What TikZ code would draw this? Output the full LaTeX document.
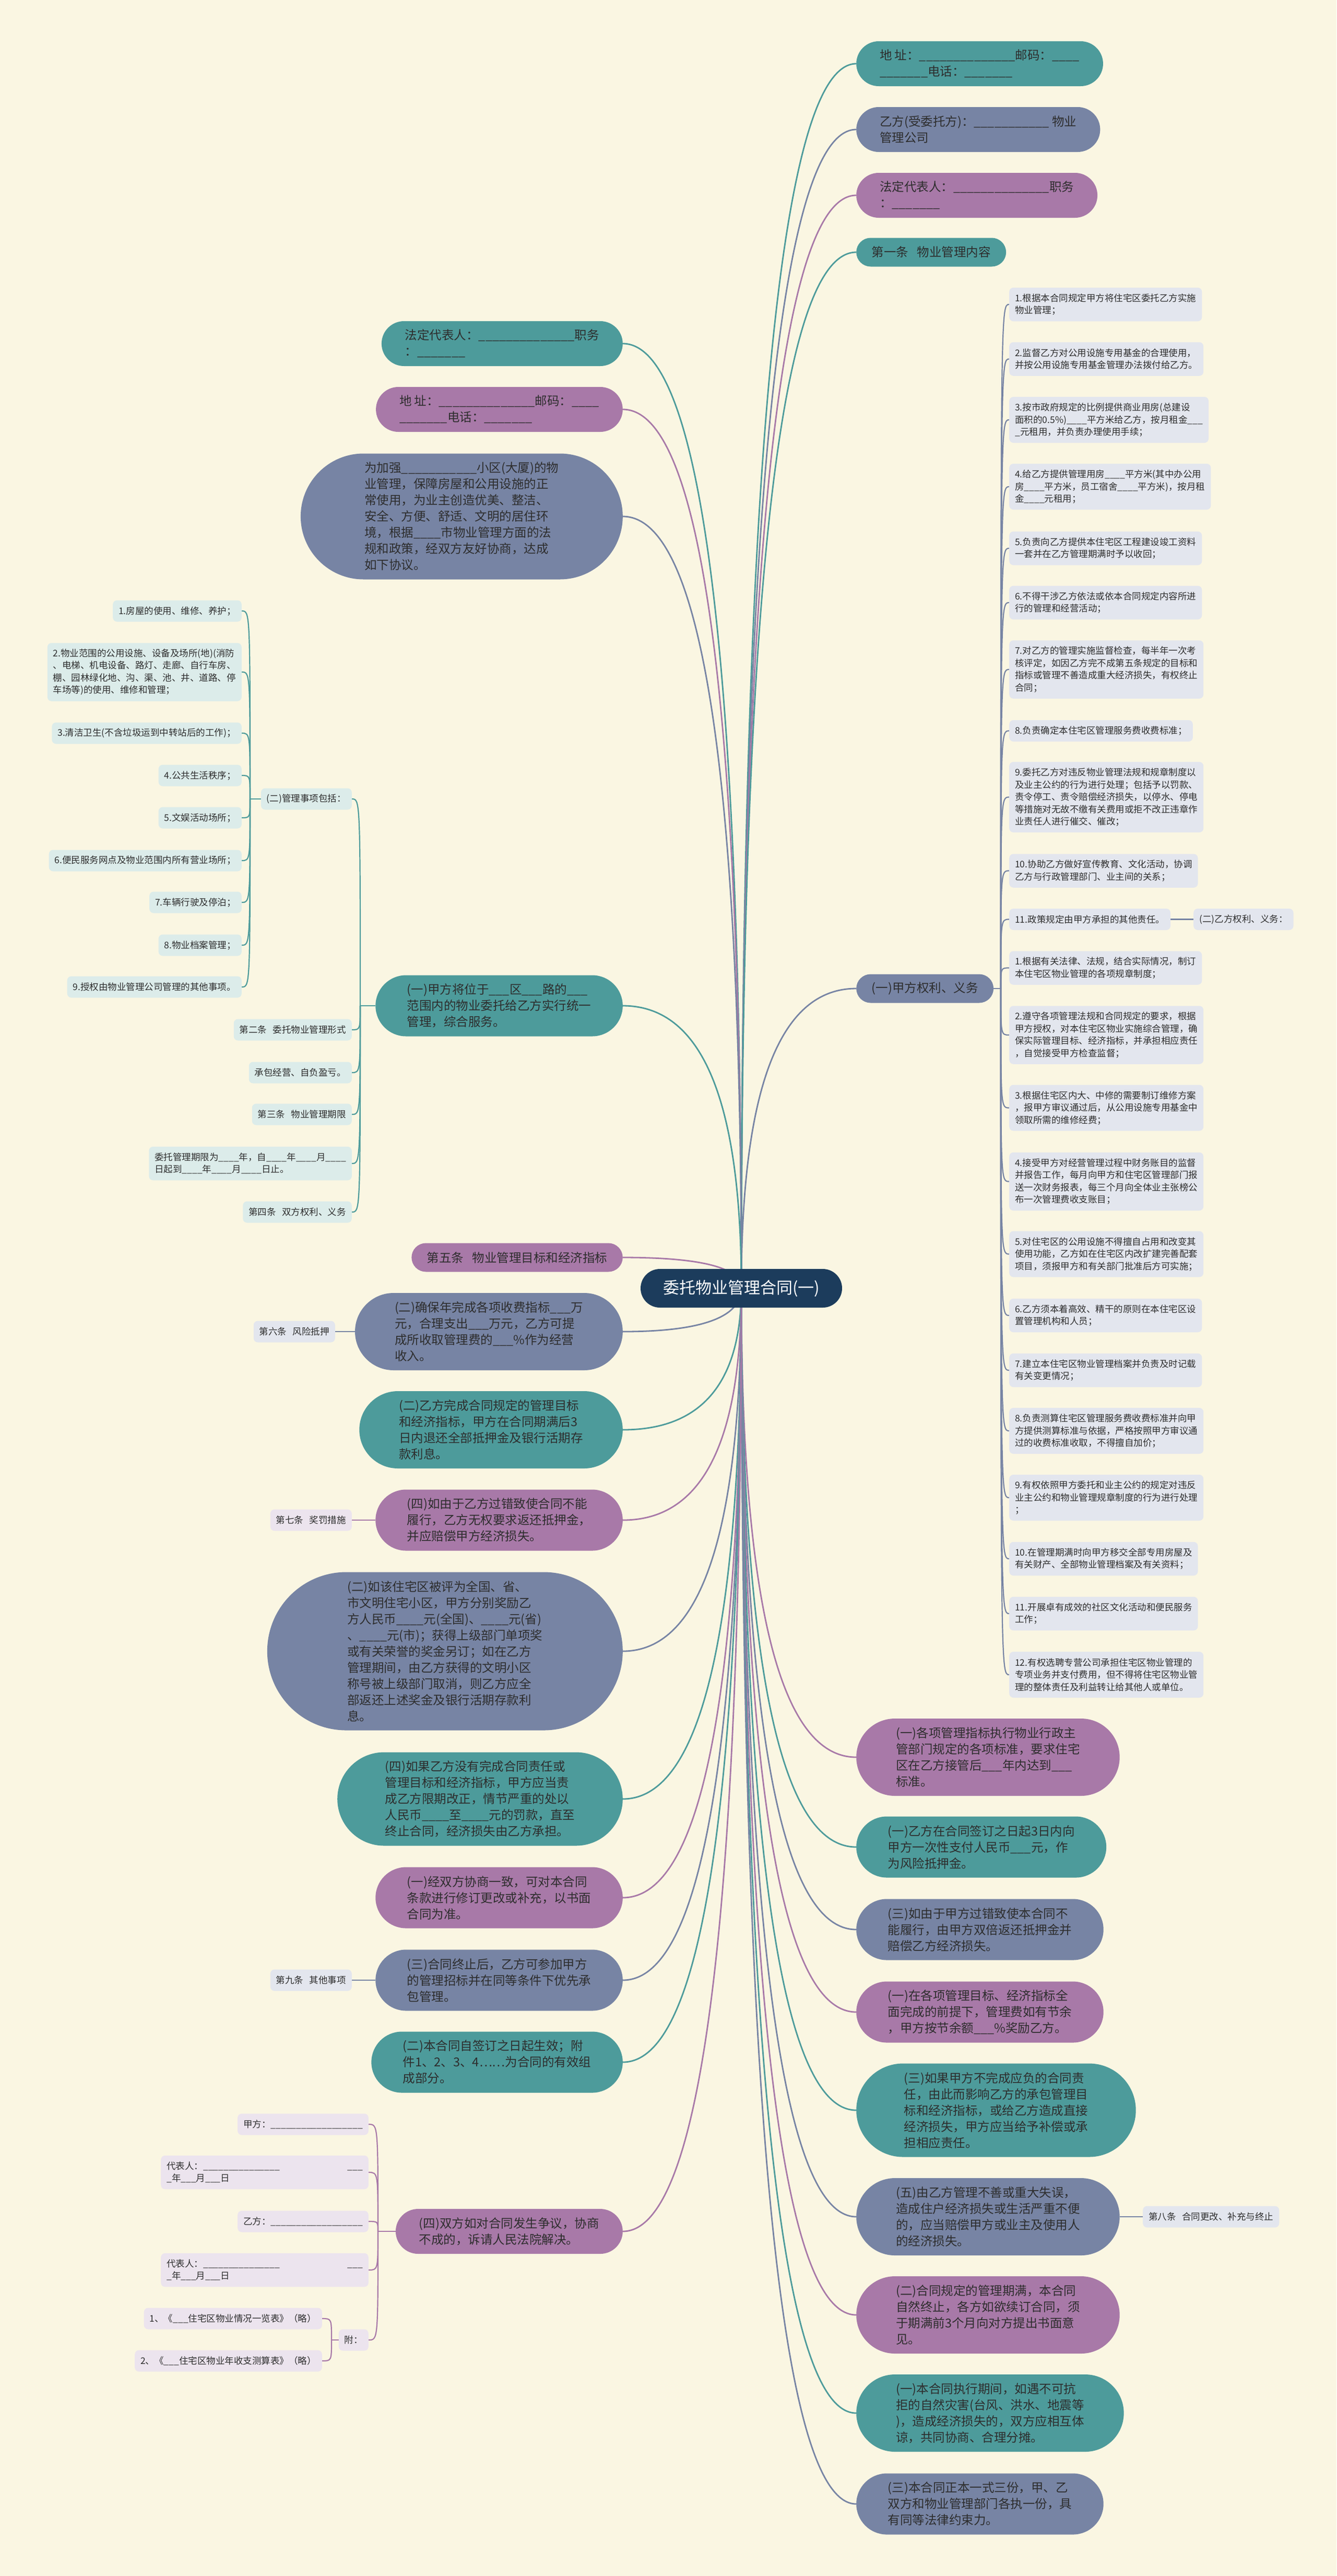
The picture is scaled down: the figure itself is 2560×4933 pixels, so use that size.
\documentclass[tikz,border=0pt]{standalone}
\usepackage{fontspec}
\setmainfont{Noto Sans CJK SC}
\usetikzlibrary{calc,backgrounds}
\definecolor{bgcol}{RGB}{250,246,226}
\definecolor{tealc}{RGB}{77,155,155}
\definecolor{slatec}{RGB}{119,132,164}
\definecolor{purplec}{RGB}{168,121,168}
\definecolor{rootc}{RGB}{28,60,92}
\definecolor{leafslate}{RGB}{227,230,238}
\definecolor{leafteal}{RGB}{220,236,234}
\definecolor{leafpurple}{RGB}{236,228,238}
\definecolor{ink}{RGB}{45,45,45}
\newcommand{\blanks}[1]{\foreach\blnk in {1,...,#1}{\_}}
\tikzset{
hub/.style={rectangle,rounded corners=37,fill=rootc,text=white,inner xsep=43,inner ysep=0,minimum height=74,font=\fontsize{31}{38}\selectfont},
pill/.style={rectangle,rounded corners={(31*#1+24)/2},align=left,text=ink,inner xsep={(31*#1+24)/2+2},inner ysep=0,minimum height={31*#1+24},font=\fontsize{23.5}{31}\selectfont},
leafbox/.style={rectangle,rounded corners=8,align=left,text=ink,inner xsep=11,inner ysep=0,minimum height={23.5*#1+17.5},font=\fontsize{17.5}{23.5}\selectfont},
quad/.style={to path={.. controls ($(\tikztostart)!2/3!(\tikztostart|-\tikztotarget)$) and ($(\tikztotarget)!2/3!(\tikztostart|-\tikztotarget)$) .. (\tikztotarget)}},
elbow/.style={to path={.. controls (\tikztostart|-\tikztotarget) .. (\tikztotarget)}}
}
\begin{document}
\begin{tikzpicture}[x=1pt,y=-1pt]
\useasboundingbox (0,0) rectangle (2560,4933);
\node[hub] (root) at (1420,2467) {委托物业管理合同(一)};
\node[pill=2,fill=tealc,anchor=west] (r1) at (1640,122) {地 址：\blanks{14}邮码：\blanks{4}\\\blanks{7}电话：\blanks{7}};
\node[pill=2,fill=slatec,anchor=west] (r2) at (1640,248) {乙方(受委托方)：\blanks{11} 物业\\管理公司};
\node[pill=2,fill=purplec,anchor=west] (r3) at (1640,374) {法定代表人：\blanks{14}职务\\：\blanks{7}};
\node[pill=1,fill=tealc,anchor=west] (r4) at (1640,483) {第一条\hspace{0.7em}物业管理内容};
\node[pill=1,fill=slatec,anchor=west] (r5) at (1640,1893) {(一)甲方权利、义务};
\node[pill=4,fill=purplec,anchor=west] (r6) at (1640,3365) {(一)各项管理指标执行物业行政主\\管部门规定的各项标准，要求住宅\\区在乙方接管后\blanks{3}年内达到\blanks{3}\\标准。};
\node[pill=3,fill=tealc,anchor=west] (r7) at (1640,3537) {(一)乙方在合同签订之日起3日内向\\甲方一次性支付人民币\blanks{3}元，作\\为风险抵押金。};
\node[pill=3,fill=slatec,anchor=west] (r8) at (1640,3695) {(三)如由于甲方过错致使本合同不\\能履行，由甲方双倍返还抵押金并\\赔偿乙方经济损失。};
\node[pill=3,fill=purplec,anchor=west] (r9) at (1640,3853) {(一)在各项管理目标、经济指标全\\面完成的前提下，管理费如有节余\\，甲方按节余额\blanks{3}\%奖励乙方。};
\node[pill=5,fill=tealc,anchor=west] (r10) at (1640,4041) {(三)如果甲方不完成应负的合同责\\任，由此而影响乙方的承包管理目\\标和经济指标，或给乙方造成直接\\经济损失，甲方应当给予补偿或承\\担相应责任。};
\node[pill=4,fill=slatec,anchor=west] (r11) at (1640,4245) {(五)由乙方管理不善或重大失误，\\造成住户经济损失或生活严重不便\\的，应当赔偿甲方或业主及使用人\\的经济损失。};
\node[pill=4,fill=purplec,anchor=west] (r12) at (1640,4433) {(二)合同规定的管理期满，本合同\\自然终止，各方如欲续订合同，须\\于期满前3个月向对方提出书面意\\见。};
\node[pill=4,fill=tealc,anchor=west] (r13) at (1640,4621) {(一)本合同执行期间，如遇不可抗\\拒的自然灾害(台风、洪水、地震等\\)，造成经济损失的，双方应相互体\\谅，共同协商、合理分摊。};
\node[pill=3,fill=slatec,anchor=west] (r14) at (1640,4795) {(三)本合同正本一式三份，甲、乙\\双方和物业管理部门各执一份，具\\有同等法律约束力。};
\node[leafbox=1,fill=leafslate,anchor=west] (art8) at (2189,4245) {第八条\hspace{0.66em}合同更改、补充与终止};
\node[leafbox=2,fill=leafslate,anchor=west] (q1) at (1933,583) {1.根据本合同规定甲方将住宅区委托乙方实施\\物业管理；};
\node[leafbox=2,fill=leafslate,anchor=west] (q2) at (1933,687.5) {2.监督乙方对公用设施专用基金的合理使用，\\并按公用设施专用基金管理办法拨付给乙方。};
\node[leafbox=3,fill=leafslate,anchor=west] (q3) at (1933,804) {3.按市政府规定的比例提供商业用房(总建设\\面积的0.5\%)\blanks{4}平方米给乙方，按月租金\blanks{3}\\\_元租用，并负责办理使用手续；};
\node[leafbox=3,fill=leafslate,anchor=west] (q4) at (1933,932) {4.给乙方提供管理用房\blanks{4}平方米(其中办公用\\房\blanks{4}平方米，员工宿舍\blanks{4}平方米)，按月租\\金\blanks{4}元租用；};
\node[leafbox=2,fill=leafslate,anchor=west] (q5) at (1933,1050) {5.负责向乙方提供本住宅区工程建设竣工资料\\一套并在乙方管理期满时予以收回；};
\node[leafbox=2,fill=leafslate,anchor=west] (q6) at (1933,1154) {6.不得干涉乙方依法或依本合同规定内容所进\\行的管理和经营活动；};
\node[leafbox=4,fill=leafslate,anchor=west] (q7) at (1933,1282) {7.对乙方的管理实施监督检查，每半年一次考\\核评定，如因乙方完不成第五条规定的目标和\\指标或管理不善造成重大经济损失，有权终止\\合同；};
\node[leafbox=1,fill=leafslate,anchor=west] (q8) at (1933,1399.5) {8.负责确定本住宅区管理服务费收费标准；};
\node[leafbox=5,fill=leafslate,anchor=west] (q9) at (1933,1526.5) {9.委托乙方对违反物业管理法规和规章制度以\\及业主公约的行为进行处理；包括予以罚款、\\责令停工、责令赔偿经济损失，以停水、停电\\等措施对无故不缴有关费用或拒不改正违章作\\业责任人进行催交、催改；};
\node[leafbox=2,fill=leafslate,anchor=west] (q10) at (1933,1667.5) {10.协助乙方做好宣传教育、文化活动，协调\\乙方与行政管理部门、业主间的关系；};
\node[leafbox=1,fill=leafslate,anchor=west] (q11) at (1933,1760.5) {11.政策规定由甲方承担的其他责任。};
\node[leafbox=1,fill=leafslate,anchor=west] (yi) at (2286,1760.5) {(二)乙方权利、义务：};
\node[leafbox=2,fill=leafslate,anchor=west] (p1) at (1933,1853.5) {1.根据有关法律、法规，结合实际情况，制订\\本住宅区物业管理的各项规章制度；};
\node[leafbox=4,fill=leafslate,anchor=west] (p2) at (1933,1982) {2.遵守各项管理法规和合同规定的要求，根据\\甲方授权，对本住宅区物业实施综合管理，确\\保实际管理目标、经济指标，并承担相应责任\\，自觉接受甲方检查监督；};
\node[leafbox=3,fill=leafslate,anchor=west] (p3) at (1933,2121.5) {3.根据住宅区内大、中修的需要制订维修方案\\，报甲方审议通过后，从公用设施专用基金中\\领取所需的维修经费；};
\node[leafbox=4,fill=leafslate,anchor=west] (p4) at (1933,2262.5) {4.接受甲方对经营管理过程中财务账目的监督\\并报告工作，每月向甲方和住宅区管理部门报\\送一次财务报表，每三个月向全体业主张榜公\\布一次管理费收支账目；};
\node[leafbox=3,fill=leafslate,anchor=west] (p5) at (1933,2401.5) {5.对住宅区的公用设施不得擅自占用和改变其\\使用功能，乙方如在住宅区内改扩建完善配套\\项目，须报甲方和有关部门批准后方可实施；};
\node[leafbox=2,fill=leafslate,anchor=west] (p6) at (1933,2519) {6.乙方须本着高效、精干的原则在本住宅区设\\置管理机构和人员；};
\node[leafbox=2,fill=leafslate,anchor=west] (p7) at (1933,2624) {7.建立本住宅区物业管理档案并负责及时记载\\有关变更情况；};
\node[leafbox=3,fill=leafslate,anchor=west] (p8) at (1933,2740) {8.负责测算住宅区管理服务费收费标准并向甲\\方提供测算标准与依据，严格按照甲方审议通\\过的收费标准收取，不得擅自加价；};
\node[leafbox=3,fill=leafslate,anchor=west] (p9) at (1933,2868) {9.有权依照甲方委托和业主公约的规定对违反\\业主公约和物业管理规章制度的行为进行处理\\；};
\node[leafbox=2,fill=leafslate,anchor=west] (p10) at (1933,2985) {10.在管理期满时向甲方移交全部专用房屋及\\有关财产、全部物业管理档案及有关资料；};
\node[leafbox=2,fill=leafslate,anchor=west] (p11) at (1933,3090) {11.开展卓有成效的社区文化活动和便民服务\\工作；};
\node[leafbox=3,fill=leafslate,anchor=west] (p12) at (1933,3207) {12.有权选聘专营公司承担住宅区物业管理的\\专项业务并支付费用，但不得将住宅区物业管\\理的整体责任及利益转让给其他人或单位。};
\node[pill=2,fill=tealc,anchor=east] (l1) at (1193,658) {法定代表人：\blanks{14}职务\\：\blanks{7}};
\node[pill=2,fill=purplec,anchor=east] (l2) at (1193,784) {地 址：\blanks{14}邮码：\blanks{4}\\\blanks{7}电话：\blanks{7}};
\node[pill=7,fill=slatec,anchor=east] (l3) at (1193,989) {为加强\blanks{11}小区(大厦)的物\\业管理，保障房屋和公用设施的正\\常使用，为业主创造优美、整洁、\\安全、方便、舒适、文明的居住环\\境，根据\blanks{4}市物业管理方面的法\\规和政策，经双方友好协商，达成\\如下协议。};
\node[pill=3,fill=tealc,anchor=east] (l4) at (1193,1926) {(一)甲方将位于\blanks{3}区\blanks{3}路的\blanks{3}\\范围内的物业委托给乙方实行统一\\管理，综合服务。};
\node[pill=1,fill=purplec,anchor=east] (l5) at (1193,2408) {第五条\hspace{0.7em}物业管理目标和经济指标};
\node[pill=4,fill=slatec,anchor=east] (l6) at (1193,2550) {(二)确保年完成各项收费指标\blanks{3}万\\元，合理支出\blanks{3}万元，乙方可提\\成所收取管理费的\blanks{3}\%作为经营\\收入。};
\node[pill=4,fill=tealc,anchor=east] (l7) at (1193,2738) {(二)乙方完成合同规定的管理目标\\和经济指标，甲方在合同期满后3\\日内退还全部抵押金及银行活期存\\款利息。};
\node[pill=3,fill=purplec,anchor=east] (l8) at (1193,2911) {(四)如由于乙方过错致使合同不能\\履行，乙方无权要求返还抵押金，\\并应赔偿甲方经济损失。};
\node[pill=9,fill=slatec,anchor=east] (l9) at (1193,3162) {(二)如该住宅区被评为全国、省、\\市文明住宅小区，甲方分别奖励乙\\方人民币\blanks{4}元(全国)、\blanks{4}元(省)\\、\blanks{4}元(市)；获得上级部门单项奖\\或有关荣誉的奖金另订；如在乙方\\管理期间，由乙方获得的文明小区\\称号被上级部门取消，则乙方应全\\部返还上述奖金及银行活期存款利\\息。};
\node[pill=5,fill=tealc,anchor=east] (l10) at (1193,3445) {(四)如果乙方没有完成合同责任或\\管理目标和经济指标，甲方应当责\\成乙方限期改正，情节严重的处以\\人民币\blanks{4}至\blanks{4}元的罚款，直至\\终止合同，经济损失由乙方承担。};
\node[pill=3,fill=purplec,anchor=east] (l11) at (1193,3634) {(一)经双方协商一致，可对本合同\\条款进行修订更改或补充，以书面\\合同为准。};
\node[pill=3,fill=slatec,anchor=east] (l12) at (1193,3792) {(三)合同终止后，乙方可参加甲方\\的管理招标并在同等条件下优先承\\包管理。};
\node[pill=3,fill=tealc,anchor=east] (l13) at (1193,3949) {(二)本合同自签订之日起生效；附\\件1、2、3、4……为合同的有效组\\成部分。};
\node[pill=2,fill=purplec,anchor=east] (l14) at (1193,4273) {(四)双方如对合同发生争议，协商\\不成的，诉请人民法院解决。};
\node[leafbox=1,fill=leafteal,anchor=east] (k0) at (674,1530) {(二)管理事项包括：};
\node[leafbox=1,fill=leafteal,anchor=east] (k1) at (674,1972) {第二条\hspace{0.66em}委托物业管理形式};
\node[leafbox=1,fill=leafteal,anchor=east] (k2) at (674,2054) {承包经营、自负盈亏。};
\node[leafbox=1,fill=leafteal,anchor=east] (k3) at (674,2134) {第三条\hspace{0.66em}物业管理期限};
\node[leafbox=2,fill=leafteal,anchor=east] (k4) at (674,2228) {委托管理期限为\blanks{4}年，自\blanks{4}年\blanks{4}月\blanks{4}\\日起到\blanks{4}年\blanks{4}月\blanks{4}日止。};
\node[leafbox=1,fill=leafteal,anchor=east] (k5) at (674,2321) {第四条\hspace{0.66em}双方权利、义务};
\node[leafbox=1,fill=leafteal,anchor=east] (m1) at (463,1170) {1.房屋的使用、维修、养护；};
\node[leafbox=4,fill=leafteal,anchor=east] (m2) at (463,1287) {2.物业范围的公用设施、设备及场所(地)(消防\\、电梯、机电设备、路灯、走廊、自行车房、\\棚、园林绿化地、沟、渠、池、井、道路、停\\车场等)的使用、维修和管理；};
\node[leafbox=1,fill=leafteal,anchor=east] (m3) at (463,1404) {3.清洁卫生(不含垃圾运到中转站后的工作)；};
\node[leafbox=1,fill=leafteal,anchor=east] (m4) at (463,1485) {4.公共生活秩序；};
\node[leafbox=1,fill=leafteal,anchor=east] (m5) at (463,1566) {5.文娱活动场所；};
\node[leafbox=1,fill=leafteal,anchor=east] (m6) at (463,1648) {6.便民服务网点及物业范围内所有营业场所；};
\node[leafbox=1,fill=leafteal,anchor=east] (m7) at (463,1728) {7.车辆行驶及停泊；};
\node[leafbox=1,fill=leafteal,anchor=east] (m8) at (463,1810) {8.物业档案管理；};
\node[leafbox=1,fill=leafteal,anchor=east] (m9) at (463,1890) {9.授权由物业管理公司管理的其他事项。};
\node[leafbox=1,fill=leafslate,anchor=east] (art6) at (642,2550) {第六条\hspace{0.66em}风险抵押};
\node[leafbox=1,fill=leafpurple,anchor=east] (art7) at (674,2911) {第七条\hspace{0.66em}奖罚措施};
\node[leafbox=1,fill=leafslate,anchor=east] (art9) at (674,3792) {第九条\hspace{0.66em}其他事项};
\node[leafbox=1,fill=leafpurple,anchor=east] (n1) at (706,4068) {甲方：\blanks{18}};
\node[leafbox=2,fill=leafpurple,anchor=east] (n2) at (706,4160) {代表人：\blanks{15}\hspace{7.4em}\blanks{3}\\\_年\blanks{3}月\blanks{3}日};
\node[leafbox=1,fill=leafpurple,anchor=east] (n3) at (706,4254) {乙方：\blanks{18}};
\node[leafbox=2,fill=leafpurple,anchor=east] (n4) at (706,4347) {代表人：\blanks{15}\hspace{7.4em}\blanks{3}\\\_年\blanks{3}月\blanks{3}日};
\node[leafbox=1,fill=leafpurple,anchor=east] (fu) at (706,4481) {附：};
\node[leafbox=1,fill=leafpurple,anchor=east] (f1) at (617,4440) {1、《\blanks{3}住宅区物业情况一览表》（略）};
\node[leafbox=1,fill=leafpurple,anchor=east] (f2) at (617,4521) {2、《\blanks{3}住宅区物业年收支测算表》（略）};
\coordinate (t5) at (1917,1893);
\coordinate (t4) at (690,1926);
\coordinate (t40) at (479,1530);
\coordinate (t14) at (724,4273);
\coordinate (tfu) at (635,4481);
\begin{scope}[on background layer]
\fill[bgcol] (0,0) rectangle (2560,4933);
\draw[tealc,line width=2.8,quad] (root.center) to (r1.west);
\draw[slatec,line width=2.8,quad] (root.center) to (r2.west);
\draw[purplec,line width=2.8,quad] (root.center) to (r3.west);
\draw[tealc,line width=2.8,quad] (root.center) to (r4.west);
\draw[slatec,line width=2.8,quad] (root.center) to (r5.west);
\draw[purplec,line width=2.8,quad] (root.center) to (r6.west);
\draw[tealc,line width=2.8,quad] (root.center) to (r7.west);
\draw[slatec,line width=2.8,quad] (root.center) to (r8.west);
\draw[purplec,line width=2.8,quad] (root.center) to (r9.west);
\draw[tealc,line width=2.8,quad] (root.center) to (r10.west);
\draw[slatec,line width=2.8,quad] (root.center) to (r11.west);
\draw[purplec,line width=2.8,quad] (root.center) to (r12.west);
\draw[tealc,line width=2.8,quad] (root.center) to (r13.west);
\draw[slatec,line width=2.8,quad] (root.center) to (r14.west);
\draw[tealc,line width=2.8,quad] (root.center) to (l1.east);
\draw[purplec,line width=2.8,quad] (root.center) to (l2.east);
\draw[slatec,line width=2.8,quad] (root.center) to (l3.east);
\draw[tealc,line width=2.8,quad] (root.center) to (l4.east);
\draw[purplec,line width=2.8,quad] (root.center) to (l5.east);
\draw[slatec,line width=2.8,quad] (root.center) to (l6.east);
\draw[tealc,line width=2.8,quad] (root.center) to (l7.east);
\draw[purplec,line width=2.8,quad] (root.center) to (l8.east);
\draw[slatec,line width=2.8,quad] (root.center) to (l9.east);
\draw[tealc,line width=2.8,quad] (root.center) to (l10.east);
\draw[purplec,line width=2.8,quad] (root.center) to (l11.east);
\draw[slatec,line width=2.8,quad] (root.center) to (l12.east);
\draw[tealc,line width=2.8,quad] (root.center) to (l13.east);
\draw[purplec,line width=2.8,quad] (root.center) to (l14.east);
\draw[slatec,line width=2.2] (r5.east) -- (t5);
\draw[slatec,line width=2.2,elbow] (t5) to (q1.west);
\draw[slatec,line width=2.2,elbow] (t5) to (q2.west);
\draw[slatec,line width=2.2,elbow] (t5) to (q3.west);
\draw[slatec,line width=2.2,elbow] (t5) to (q4.west);
\draw[slatec,line width=2.2,elbow] (t5) to (q5.west);
\draw[slatec,line width=2.2,elbow] (t5) to (q6.west);
\draw[slatec,line width=2.2,elbow] (t5) to (q7.west);
\draw[slatec,line width=2.2,elbow] (t5) to (q8.west);
\draw[slatec,line width=2.2,elbow] (t5) to (q9.west);
\draw[slatec,line width=2.2,elbow] (t5) to (q10.west);
\draw[slatec,line width=2.2,elbow] (t5) to (q11.west);
\draw[slatec,line width=2.2,elbow] (t5) to (p1.west);
\draw[slatec,line width=2.2,elbow] (t5) to (p2.west);
\draw[slatec,line width=2.2,elbow] (t5) to (p3.west);
\draw[slatec,line width=2.2,elbow] (t5) to (p4.west);
\draw[slatec,line width=2.2,elbow] (t5) to (p5.west);
\draw[slatec,line width=2.2,elbow] (t5) to (p6.west);
\draw[slatec,line width=2.2,elbow] (t5) to (p7.west);
\draw[slatec,line width=2.2,elbow] (t5) to (p8.west);
\draw[slatec,line width=2.2,elbow] (t5) to (p9.west);
\draw[slatec,line width=2.2,elbow] (t5) to (p10.west);
\draw[slatec,line width=2.2,elbow] (t5) to (p11.west);
\draw[slatec,line width=2.2,elbow] (t5) to (p12.west);
\draw[slatec,line width=2.2] (q11.east) -- (yi.west);
\draw[slatec,line width=2.2] (r11.east) -- (art8.west);
\draw[tealc,line width=2.2] (l4.west) -- (t4);
\draw[tealc,line width=2.2,elbow] (t4) to (k0.east);
\draw[tealc,line width=2.2,elbow] (t4) to (k1.east);
\draw[tealc,line width=2.2,elbow] (t4) to (k2.east);
\draw[tealc,line width=2.2,elbow] (t4) to (k3.east);
\draw[tealc,line width=2.2,elbow] (t4) to (k4.east);
\draw[tealc,line width=2.2,elbow] (t4) to (k5.east);
\draw[tealc,line width=2.2] (k0.west) -- (t40);
\draw[tealc,line width=2.2,elbow] (t40) to (m1.east);
\draw[tealc,line width=2.2,elbow] (t40) to (m2.east);
\draw[tealc,line width=2.2,elbow] (t40) to (m3.east);
\draw[tealc,line width=2.2,elbow] (t40) to (m4.east);
\draw[tealc,line width=2.2,elbow] (t40) to (m5.east);
\draw[tealc,line width=2.2,elbow] (t40) to (m6.east);
\draw[tealc,line width=2.2,elbow] (t40) to (m7.east);
\draw[tealc,line width=2.2,elbow] (t40) to (m8.east);
\draw[tealc,line width=2.2,elbow] (t40) to (m9.east);
\draw[slatec,line width=2.2] (l6.west) -- (art6.east);
\draw[purplec,line width=2.2] (l8.west) -- (art7.east);
\draw[slatec,line width=2.2] (l12.west) -- (art9.east);
\draw[purplec,line width=2.2] (l14.west) -- (t14);
\draw[purplec,line width=2.2,elbow] (t14) to (n1.east);
\draw[purplec,line width=2.2,elbow] (t14) to (n2.east);
\draw[purplec,line width=2.2,elbow] (t14) to (n3.east);
\draw[purplec,line width=2.2,elbow] (t14) to (n4.east);
\draw[purplec,line width=2.2,elbow] (t14) to (fu.east);
\draw[purplec,line width=2.2] (fu.west) -- (tfu);
\draw[purplec,line width=2.2,elbow] (tfu) to (f1.east);
\draw[purplec,line width=2.2,elbow] (tfu) to (f2.east);
\end{scope}
\end{tikzpicture}
\end{document}
